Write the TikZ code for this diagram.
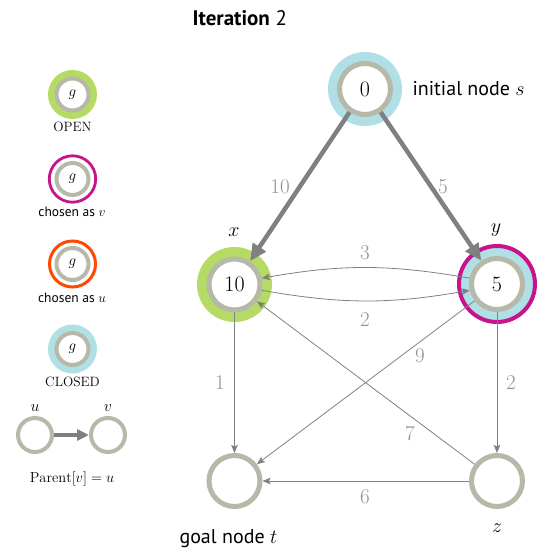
\RequirePackage{fix-cm}
\documentclass[tikz,border=0pt]{standalone}
\usepackage{fontspec}
\setsansfont{PT Sans}
\usetikzlibrary{arrows.meta}
\definecolor{greenc}{RGB}{181,218,102}
\definecolor{cyanc}{RGB}{176,223,229}
\definecolor{ringgray}{RGB}{182,184,168}
\definecolor{magentac}{RGB}{200,20,140}
\definecolor{orangec}{RGB}{255,72,0}
\definecolor{edgegray}{RGB}{128,128,128}
\definecolor{labelgray}{RGB}{145,145,145}
\begin{document}
\begin{tikzpicture}[x=1pt,y=1pt,
  gnode/.style={circle, draw=ringgray, line width=5pt, fill=white, minimum size=51pt, inner sep=0pt, outer sep=2.5pt, font=\fontsize{22}{24}\selectfont},
  lnode/.style={circle, draw=ringgray, line width=4pt, fill=white, minimum size=32pt, inner sep=0pt, outer sep=2pt, font=\fontsize{15}{17}\selectfont},
  thinedge/.style={draw=edgegray, line width=0.8pt, -{Stealth[length=8pt,width=6.5pt,inset=1.5pt]}},
  thickedge/.style={draw=edgegray, line width=4.5pt, -{Triangle[length=17pt,width=15pt]}},
  wlabel/.style={text=labelgray, font=\fontsize{21}{23}\selectfont},
  sflabel/.style={font=\sffamily\fontsize{20}{22}\selectfont},
  leglabel/.style={font=\fontsize{13.5}{15}\selectfont},
  sfleg/.style={font=\sffamily\fontsize{13.5}{15}\selectfont},
  varlabel/.style={font=\fontsize{20}{22}\selectfont},
]
\useasboundingbox (0,0) rectangle (540,554);
% title
\node[font=\sffamily\fontsize{21}{23}\selectfont, anchor=west] (title) at (189,536) {\textbf{Iteration} 2};
% backgrounds of main nodes
\fill[cyanc] (365,465) circle (37);
\fill[greenc] (234.5,269.5) circle (37.5);
\fill[cyanc] (497,270) circle (38);
\draw[magentac, line width=4pt] (497,270) circle (38);
% main nodes
\node[gnode] (s) at (365,465) {0};
\node[gnode] (x) at (234.5,269.5) {10};
\node[gnode] (y) at (497,270) {5};
\node[gnode] (t) at (234.5,73) {};
\node[gnode] (z) at (497,73) {};
% node labels
\node[sflabel, anchor=west] (slab) at (409,465) {initial node $s$};
\node[varlabel] (xlab) at (234,322) {$x$};
\node[varlabel] (ylab) at (496,324) {$y$};
\node[sflabel, anchor=west] (tlab) at (176,15) {goal node $t$};
\node[varlabel] (zlab) at (497,26) {$z$};
% edges
\draw[thickedge] (s) -- (x);
\draw[thickedge] (s) -- (y);
\draw[thinedge] (y.168) to[bend right=10] (x.13);
\draw[thinedge] (x.-12) to[bend right=10] (y.-167);
\draw[thinedge] (x) -- (t);
\draw[thinedge] (y) -- (t);
\draw[thinedge] (z) -- (x);
\draw[thinedge] (y) -- (z);
\draw[thinedge] (z) -- (t);
% edge weights
\node[wlabel] (w10) at (280,367) {10};
\node[wlabel] (w5) at (443,367) {5};
\node[wlabel] (w3) at (365,301) {3};
\node[wlabel] (w2a) at (365,234) {2};
\node[wlabel] (w9) at (420,198) {9};
\node[wlabel] (w1) at (220,171) {1};
\node[wlabel] (w2b) at (511,171) {2};
\node[wlabel] (w7) at (410,120) {7};
\node[wlabel] (w6) at (365,57) {6};
% legend
\fill[greenc] (72.5,459.5) circle (24.5);
\node[lnode] (lopen) at (72.5,459.5) {$g$};
\node[leglabel] (lopent) at (72.5,427) {OPEN};
\draw[magentac, line width=2.8pt] (72.5,375) circle (23.2);
\node[lnode] (lv) at (72.5,375) {$g$};
\node[sfleg] (lvt) at (72,342) {chosen as $v$};
\draw[orangec, line width=3pt] (72.5,290) circle (23);
\node[lnode] (lu) at (72.5,290) {$g$};
\node[sfleg] (lut) at (72,256) {chosen as $u$};
\fill[cyanc] (72.5,205) circle (24.5);
\node[lnode] (lc) at (72.5,205) {$g$};
\node[leglabel] (lct) at (72.5,172) {CLOSED};
\node[lnode, minimum size=34pt] (pu) at (35,119) {};
\node[lnode, minimum size=34pt] (pv) at (108,119) {};
\draw[draw=edgegray, line width=4pt, -{Triangle[length=12pt,width=11pt]}] (pu) -- (pv);
\node[font=\fontsize{16}{18}\selectfont] (pul) at (35,146) {$u$};
\node[font=\fontsize{16}{18}\selectfont] (pvl) at (108,146) {$v$};
\node[font=\fontsize{14.5}{16}\selectfont] (parent) at (72,75) {$\mathrm{Parent}[v] = u$};
\end{tikzpicture}
\end{document}
